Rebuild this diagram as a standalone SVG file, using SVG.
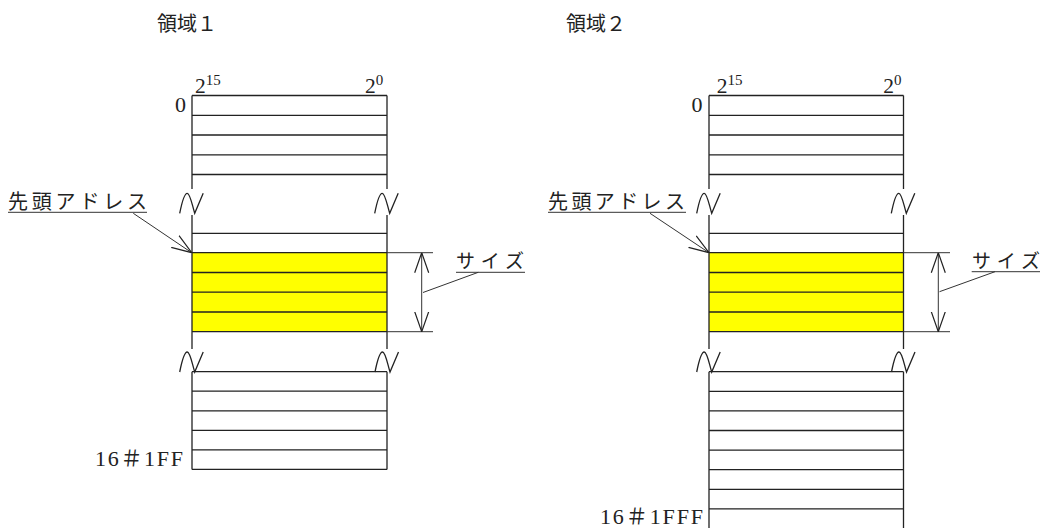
<svg xmlns="http://www.w3.org/2000/svg" width="1044" height="528" viewBox="0 0 1044 528">
<style>
.ln{stroke:#222;stroke-width:1.3;fill:none}
.th{stroke:#333;stroke-width:1;fill:none}
.brk{stroke:#222;stroke-width:1.3;fill:none}
.yl{fill:#FFFF00}
.jp{font-family:"Noto Sans CJK JP","Noto Sans",sans-serif;fill:#222}
.num{font-family:"Liberation Serif","Noto Sans CJK JP",serif;fill:#222}
</style>
<defs>
<marker id="open" viewBox="0 0 20 16" refX="20" refY="8" markerWidth="20" markerHeight="16" markerUnits="userSpaceOnUse" orient="auto-start-reverse">
<path d="M0 1 L20 8 L0 15" fill="none" stroke="#222" stroke-width="1.2"/>
</marker>
<path id="brk" class="brk" d="M-12 20 C-10 10 -7.5 0 -4.5 0 C-1.5 0 0.5 12 3 20 L11.5 0"/>
</defs>
<rect width="1044" height="528" fill="#fff"/>

<g id="title1"><text class="jp" x="157" y="31" font-size="20">領域１</text></g>
<g id="title2"><text class="jp" x="566" y="31" font-size="20">領域２</text></g>

<g id="area1">
<rect class="yl" x="192" y="252.7" width="195" height="79"/>
<path class="ln" d="M192 95.5H387M192 115.3H387M192 135H387M192 154.8H387M192 174.5H387
M192 233.3H387M192 252.7H387M192 272.5H387M192 292.2H387M192 312H387M192 331.7H387
M192 371.7H387M192 391.2H387M192 410.8H387M192 430.3H387M192 449.9H387M192 469.4H387
M192 95.5V189M387 95.5V189M192 215V349M387 215V349M192 371.7V469.4M387 371.7V469.4"/>
<use href="#brk" x="191.7" y="193.3"/>
<use href="#brk" x="386.7" y="193.3"/>
<use href="#brk" x="191.7" y="352"/>
<use href="#brk" x="387" y="352"/>
<text class="num" x="186" y="112" font-size="22" text-anchor="end">0</text>
<text class="num" x="195" y="92.5" font-size="21.5">2<tspan font-size="15" dy="-7.5">15</tspan></text>
<text class="num" x="365" y="92.5" font-size="21.5">2<tspan font-size="15" dy="-7.5">0</tspan></text>
<text class="num" x="95" y="465.5" font-size="22" textLength="88" lengthAdjust="spacing">16＃1FF</text>
</g>

<g id="area2">
<rect class="yl" x="709" y="252.7" width="194.5" height="79"/>
<path class="ln" d="M709 95.5H903.5M709 115.3H903.5M709 135H903.5M709 154.8H903.5M709 174.5H903.5
M709 233.3H903.5M709 252.7H903.5M709 272.5H903.5M709 292.2H903.5M709 312H903.5M709 331.7H903.5
M709 371.7H903.5M709 391.3H903.5M709 410.9H903.5M709 430.5H903.5M709 450.1H903.5M709 469.7H903.5M709 489.3H903.5M709 508.9H903.5
M709 95.5V189M903.5 95.5V189M709 215V349M903.5 215V349M709 371.7V528M903.5 371.7V528"/>
<use href="#brk" x="708.7" y="193.3"/>
<use href="#brk" x="903.3" y="193.3"/>
<use href="#brk" x="708.7" y="352"/>
<use href="#brk" x="903.5" y="352"/>
<text class="num" x="702.5" y="112" font-size="22" text-anchor="end">0</text>
<text class="num" x="716.7" y="92.5" font-size="21.5">2<tspan font-size="15" dy="-7.5">15</tspan></text>
<text class="num" x="883.3" y="92.5" font-size="21.5">2<tspan font-size="15" dy="-7.5">0</tspan></text>
<text class="num" x="600" y="523.5" font-size="22" textLength="103" lengthAdjust="spacing">16＃1FFF</text>
</g>

<g id="label-start1">
<text class="jp" x="8" y="209" font-size="20" textLength="139" lengthAdjust="spacing">先頭アドレス</text>
</g>
<g id="label-size1">
<text class="jp" x="456" y="268" font-size="19" textLength="68" lengthAdjust="spacing">サイズ</text>
</g>
<g id="label-start2">
<text class="jp" x="548" y="209" font-size="20" textLength="137" lengthAdjust="spacing">先頭アドレス</text>
</g>
<g id="label-size2">
<text class="jp" x="972" y="268" font-size="19" textLength="68" lengthAdjust="spacing">サイズ</text>
</g>

<g id="connectors">
<path class="th" d="M8 212.3H147M133.3 213.3L191.7 252.7" marker-end="url(#open)"/>
<path class="th" d="M387 252.7H433M387 331.7H433"/>
<path class="th" d="M421.7 252.7V331.7" marker-start="url(#open)" marker-end="url(#open)"/>
<path class="th" d="M423 292.5L478.3 272.3M456 272.3H525"/>
<path class="th" d="M548 212.3H686M650 213.3L709 252.7" marker-end="url(#open)"/>
<path class="th" d="M903.5 252.7H950M903.5 331.7H950"/>
<path class="th" d="M938.3 252.7V331.7" marker-start="url(#open)" marker-end="url(#open)"/>
<path class="th" d="M939.5 291.7L995 271.7M971.7 271.7H1040"/>
</g>
</svg>
